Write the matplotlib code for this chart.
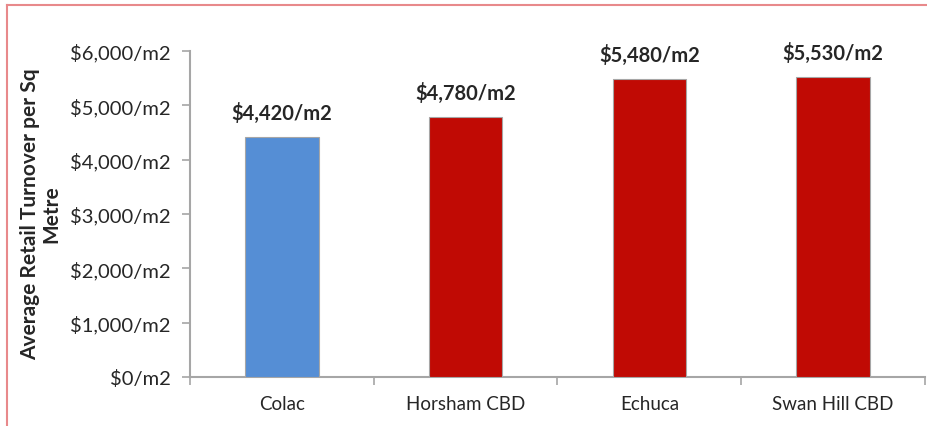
import matplotlib
matplotlib.use("Agg")
import matplotlib.pyplot as plt
from matplotlib.ticker import FixedLocator, FuncFormatter
from matplotlib.lines import Line2D

categories = ["Colac", "Horsham CBD", "Echuca", "Swan Hill CBD"]
values = [4420, 4780, 5480, 5530]
colors = ["#558ED5", "#C00A04", "#C00A04", "#C00A04"]
yticks = [0, 1000, 2000, 3000, 4000, 5000, 6000]
ylabel = "Average Retail Turnover per Sq\nMetre"

plt.rcParams['font.family'] = ['Lato', 'DejaVu Sans']

fig = plt.figure(figsize=(9.28, 4.27), dpi=100)
ax = fig.add_axes([190/928, 1-378/427, (925-190)/928, (378-52)/427])

x = list(range(len(categories)))
bars = ax.bar(x, values, width=0.4, color=colors, edgecolor="#A6A6A6", linewidth=0.8, zorder=3)
for xi, v in zip(x, values):
    ax.annotate(f"${v:,}/m2", (xi, v), xytext=(0, 10), textcoords="offset points",
                ha="center", va="bottom", fontsize=14.5, fontweight="bold", color="#262626")

ax.set_xlim(-0.5, len(categories) - 0.5)
ax.set_ylim(0, 6000)
ax.yaxis.set_major_locator(FixedLocator(yticks))
ax.yaxis.set_major_formatter(FuncFormatter(lambda v, p: f"${int(v):,}/m2"))
ax.set_xticks(x)
ax.set_xticklabels(categories)
ax.xaxis.set_minor_locator(FixedLocator([i - 0.5 for i in range(len(categories) + 1)]))
ax.tick_params(axis="x", which="major", length=0, pad=13, labelsize=13.5, labelcolor="#262626")
ax.tick_params(axis="x", which="minor", length=6, width=1.2, color="#A6A6A6", direction="out")
ax.tick_params(axis="y", length=6, width=1.2, color="#A6A6A6", pad=8, labelsize=14.5, labelcolor="#262626")
for s in ["top", "right"]:
    ax.spines[s].set_visible(False)
for s in ["left", "bottom"]:
    ax.spines[s].set_color("#A6A6A6")
    ax.spines[s].set_linewidth(1.5)

fig.text(41/928, 1-214/427, ylabel, rotation=90, ha="center", va="center",
         fontsize=15, fontweight="bold", color="#262626", multialignment="center",
         linespacing=1.1)

# outer border (top and left)
fig.add_artist(Line2D([7/928, 7/928], [0, 1-6/427], transform=fig.transFigure, color="#E8898B", linewidth=1.5))
fig.add_artist(Line2D([7/928, 1], [1-6/427, 1-6/427], transform=fig.transFigure, color="#E8898B", linewidth=1.5))

fig.savefig("out.png", dpi=100)
